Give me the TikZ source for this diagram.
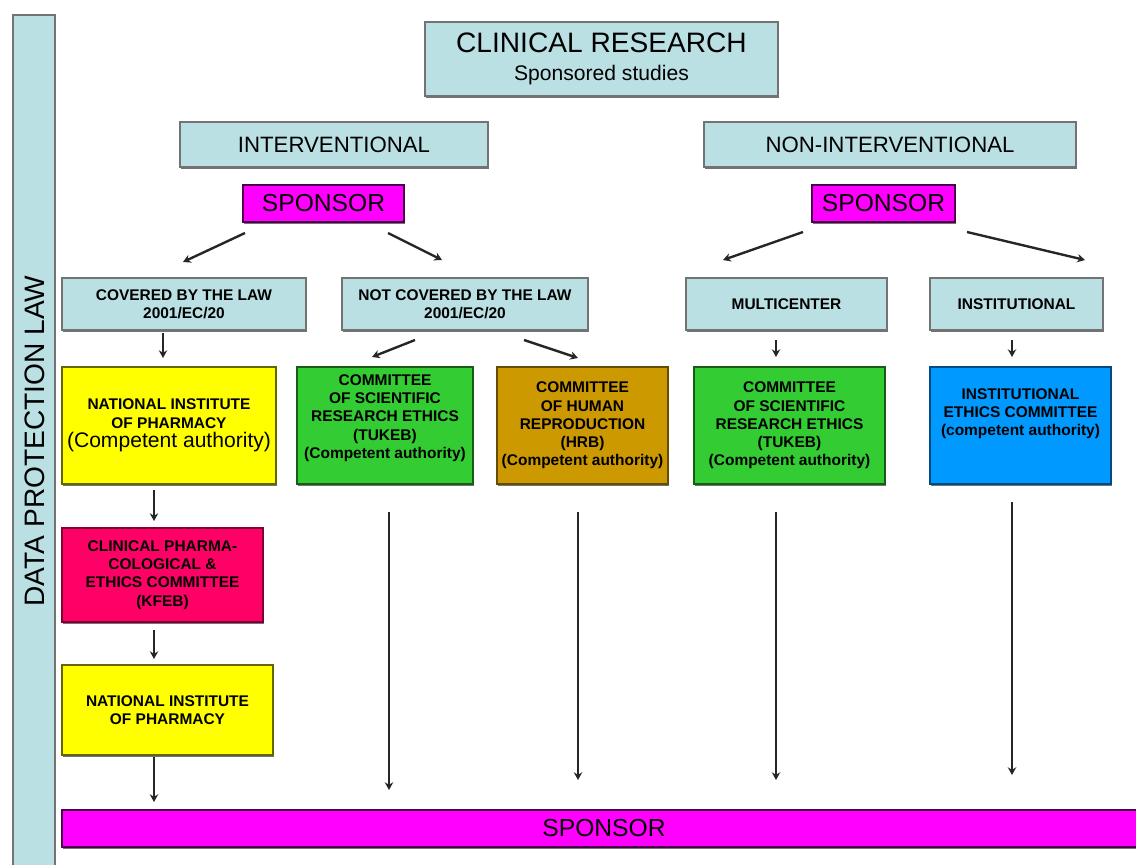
\documentclass[tikz,border=0pt]{standalone}
\usepackage{fontspec}
\setmainfont{Liberation Sans}
\usetikzlibrary{shadows,arrows.meta}
\definecolor{lblue}{HTML}{BAE0E4}
\definecolor{mag}{HTML}{FF00FF}
\definecolor{yel}{HTML}{FFFF00}
\definecolor{grn}{HTML}{33CC33}
\definecolor{gld}{HTML}{CC9900}
\definecolor{rred}{HTML}{FF0066}
\definecolor{bblu}{HTML}{0099FF}
% box from pixel corners: style, name, x1, y1, x2, y2, text
\newcommand\pxbox[7]{%
  \node[#1, minimum width={(#5-#3)*0.025cm}, minimum height={(#6-#4)*0.025cm}]
    (#2) at ({(#3+#5)/2},{(#4+#6)/2}) {#7};}
\begin{document}
\begin{tikzpicture}[x=0.025cm,y=-0.025cm,
  bx/.style={inner sep=0pt, outer sep=0pt, line width=0.9pt, align=center,
    drop shadow={shadow xshift=0.5pt, shadow yshift=-1.5pt, fill=black!55, opacity=1}},
  lb/.style={bx, fill=lblue, draw=black!55},
  sp/.style={bx, fill=mag, draw=black!70!mag, font=\fontsize{17.5}{20}\selectfont},
  yb/.style={bx, fill=yel, draw=black!60!yel},
  gb/.style={bx, fill=grn, draw=black!55!grn},
  hb/.style={bx, fill=gld, draw=black!50!gld},
  rb/.style={bx, fill=rred, draw=black!50!rred},
  ib/.style={bx, fill=bblu, draw=black!50!bblu},
  st/.style={font=\bfseries\fontsize{11}{13}\selectfont},
  hd/.style={font=\fontsize{15.8}{18}\selectfont},
  arr/.style={line width=1.7pt, draw=black!85, -{Stealth[length=5.5pt,width=6pt]}},
]
\useasboundingbox (0,0) rectangle (1136,864);
% left bar
\pxbox{lb}{bar}{13}{15}{55}{885}{}
\node[rotate=90, font=\fontsize{20}{22}\selectfont] (dpl) at (35,441) {DATA PROTECTION LAW};
% top
\pxbox{lb}{cr}{425}{22}{778}{96}{\fontsize{20}{24}\selectfont CLINICAL RESEARCH\\[7.5pt]{\fontsize{15}{17}\selectfont Sponsored studies}}
\pxbox{lb,hd}{int}{180}{122}{488}{167}{INTERVENTIONAL}
\pxbox{lb,hd}{nint}{704}{122}{1076}{167}{NON-INTERVENTIONAL}
\pxbox{sp}{spL}{243}{185}{404}{222}{SPONSOR}
\pxbox{sp}{spR}{812}{185}{955}{222}{SPONSOR}
% second row
\pxbox{lb,st}{cov}{62}{278}{306}{330}{COVERED BY THE LAW\\2001/EC/20}
\pxbox{lb,st}{ncov}{342}{278}{588}{330}{NOT COVERED BY THE LAW\\2001/EC/20}
\pxbox{lb,st}{mc}{686}{278}{887}{330}{MULTICENTER}
\pxbox{lb,st}{inst}{930}{278}{1103}{330}{INSTITUTIONAL}
% third row
\pxbox{yb,st}{nip}{62}{367}{276}{484}{NATIONAL INSTITUTE\\OF PHARMACY\\[1pt]{\mdseries\fontsize{15}{17}\selectfont(Competent authority)}}
\pxbox{gb,st}{tuk}{297}{367}{473}{484}{COMMITTEE\\OF SCIENTIFIC\\RESEARCH ETHICS\\(TUKEB)\\(Competent authority)\\[0pt]}
\pxbox{hb,st}{hrb}{497}{367}{668}{484}{COMMITTEE\\OF HUMAN\\REPRODUCTION\\(HRB)\\(Competent authority)}
\pxbox{gb,st}{tuk2}{694}{367}{885}{484}{COMMITTEE\\OF SCIENTIFIC\\RESEARCH ETHICS\\(TUKEB)\\(Competent authority)}
\pxbox{ib,st}{iec}{930}{367}{1111}{484}{INSTITUTIONAL\\ETHICS COMMITTEE\\(competent authority)\\[6pt]}
% left column
\pxbox{rb,st}{kfeb}{62}{528}{263}{622}{CLINICAL PHARMA-\\COLOGICAL \&\\ETHICS COMMITTEE\\(KFEB)}
\pxbox{yb,st}{nip2}{62}{665}{273}{755}{NATIONAL INSTITUTE\\OF PHARMACY}
% bottom
\pxbox{sp}{bsp}{62}{810}{1146}{847}{SPONSOR}
% arrows
\draw[arr] ([shift={(2,11)}]spL.south west) -- ([shift={(121,-16)}]cov.north west);
\draw[arr] ([shift={(-16,11)}]spL.south east) -- ([shift={(100,-18)}]ncov.north west);
\draw[arr] ([shift={(-9,10)}]spR.south west) -- ([shift={(37,-18)}]mc.north west);
\draw[arr] ([shift={(12,10)}]spR.south east) -- ([shift={(-18,-18)}]inst.north east);
\draw[arr] ([shift={(101,3)}]cov.south west) -- ([shift={(101,-9)}]nip.north west);
\draw[arr] ([shift={(73,10)}]ncov.south west) -- ([shift={(75,-10)}]tuk.north west);
\draw[arr] ([shift={(182,10)}]ncov.south west) -- ([shift={(81,-9)}]hrb.north west);
\draw[arr] ([shift={(90,10)}]mc.south west) -- ([shift={(82,-10)}]tuk2.north west);
\draw[arr] ([shift={(82,10)}]inst.south west) -- ([shift={(82,-10)}]iec.north west);
\draw[arr] ([shift={(92,6)}]nip.south west) -- ([shift={(92,-7)}]kfeb.north west);
\draw[arr] ([shift={(92,8)}]kfeb.south west) -- ([shift={(92,-6)}]nip2.north west);
\draw[arr] ([shift={(92,2)}]nip2.south west) -- ([shift={(92,-8)}]bsp.north west);
\draw[arr] ([shift={(92,28)}]tuk.south west) -- ([shift={(327,-20)}]bsp.north west);
\draw[arr] ([shift={(81,28)}]hrb.south west) -- ([shift={(516,-30)}]bsp.north west);
\draw[arr] ([shift={(82,28)}]tuk2.south west) -- ([shift={(714,-30)}]bsp.north west);
\draw[arr] ([shift={(82,18)}]iec.south west) -- ([shift={(950,-35)}]bsp.north west);
\end{tikzpicture}
\end{document}
